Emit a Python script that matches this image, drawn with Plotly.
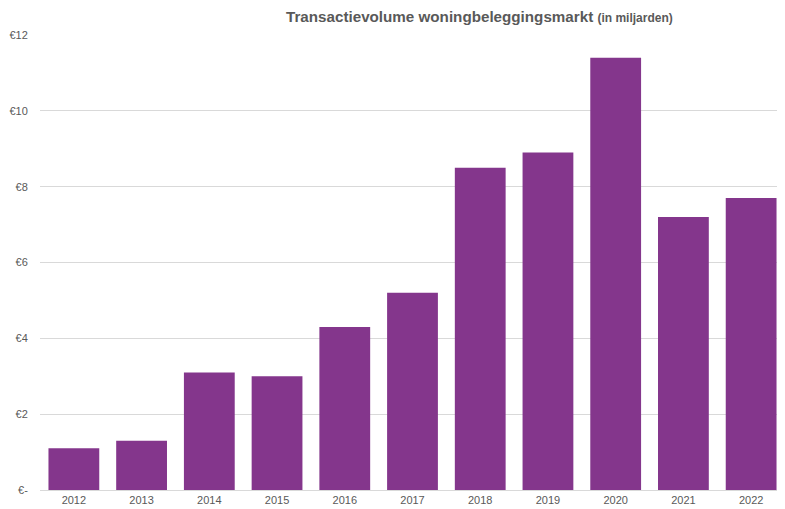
import plotly.graph_objects as go

years = ["2012", "2013", "2014", "2015", "2016", "2017", "2018", "2019", "2020", "2021", "2022"]
volume = [1.1, 1.3, 3.1, 3.0, 4.3, 5.2, 8.5, 8.9, 11.4, 7.2, 7.7]
ytick_vals = [0, 2, 4, 6, 8, 10, 12]
ytick_text = ["€-", "€2", "€4", "€6", "€8", "€10", "€12"]

fig = go.Figure(go.Bar(x=years, y=volume, marker=dict(color="#84368c", line=dict(width=0)), width=0.75))

fig.update_layout(
    width=777, height=501,
    margin=dict(l=32, r=0, t=27, b=19),
    paper_bgcolor="white", plot_bgcolor="white",
    font=dict(family="Liberation Sans, Arial, sans-serif", color="#595959", size=11),
    showlegend=False,
    annotations=[dict(
        x=0.59, y=1, xref="paper", yref="paper", yshift=19, xanchor="center", yanchor="middle",
        showarrow=False,
        text="<b>Transactievolume woningbeleggingsmarkt</b> <b><span style='font-size:12px'>(in miljarden)</span></b>",
        font=dict(size=15.2, color="#595959"),
    )],
)
fig.update_xaxes(showgrid=False, showline=True, linecolor="#d9d9d9", linewidth=1, ticks="",
                 tickfont=dict(size=11, color="#595959"))
fig.update_yaxes(range=[0, 12], tickvals=ytick_vals, ticktext=ytick_text, showgrid=True,
                 gridcolor="#d9d9d9", gridwidth=1, zeroline=False, ticks="outside", ticklen=9,
                 tickcolor="rgba(0,0,0,0)", tickfont=dict(size=11, color="#595959"))

fig.write_html("out.html")
